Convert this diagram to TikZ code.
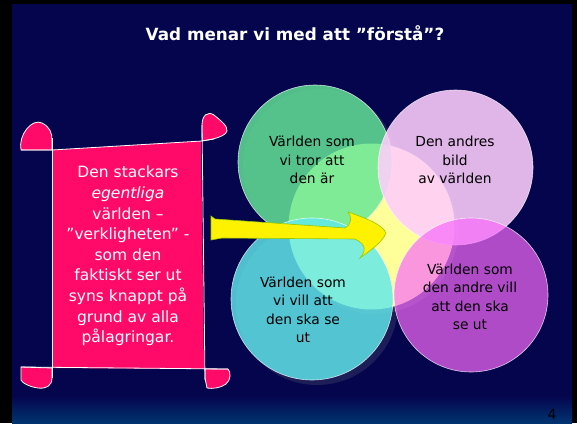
\documentclass[tikz,border=0pt]{standalone}
\usepackage{fontspec}
\setmainfont{DejaVu Sans}
\usepackage{tikz}
\usetikzlibrary{positioning}
\definecolor{slidebg}{RGB}{5,5,78}
\definecolor{slidefoot}{RGB}{0,52,112}
\definecolor{scrollpink}{RGB}{255,10,105}
\definecolor{sunyellow}{RGB}{255,255,153}
\definecolor{worldgreen}{RGB}{99,231,151}
\definecolor{otherlilac}{RGB}{255,206,253}
\definecolor{wishcyan}{RGB}{96,233,236}
\definecolor{othermagenta}{RGB}{249,106,252}
\definecolor{arrowedge}{RGB}{150,200,0}
\tikzset{world/.style={circle,draw=white,draw opacity=0.75,line width=0.6pt,inner sep=0pt,minimum size=#1}}
\tikzset{shadowdisc/.style={circle,fill=gray,fill opacity=0.2,inner sep=0pt,minimum size=#1}}
\tikzset{worldtext/.style={align=center,text=black,font=\fontsize{13.8}{18.5}\selectfont}}
\tikzset{scrollline/.style={draw=white,line width=0.8pt,line join=round}}

\begin{document}
\begin{tikzpicture}[x=1pt,y=-1pt]
        \useasboundingbox (0,0) rectangle (577,423);
        \fill[black] (0,0) rectangle (577,423);
        \fill[slidebg] (12,4) rectangle (572,423);
        \shade[top color=slidebg,bottom color=slidefoot] (12,396) rectangle (572,423);

        \node[font=\bfseries\fontsize{16.8}{20}\selectfont,text=white] (title) at (295,33) {Vad menar vi med att ”förstå”?};

        % the scroll
        \fill[scrollpink] (52,150) -- (201,141) -- (204,369) -- (52,368) -- cycle;
        \filldraw[scrollpink,scrollline] (21,150) .. controls (18,135) and (32,118) .. (42,123) .. controls (50,127) and (52,133) .. (52,140) -- (52,150) -- cycle;
        \filldraw[scrollpink,scrollline] (202,141) -- (202,125) .. controls (202,115) and (208,111) .. (214,115) .. controls (220,120) and (228,126) .. (227,131) .. controls (226,135) and (220,137) .. (213,139) -- cycle;
        \filldraw[scrollpink,scrollline] (21,367) -- (52,368) -- (52,378) .. controls (52,386) and (46,389) .. (38,388) .. controls (30,387) and (22,383) .. (21,380) -- cycle;
        \filldraw[scrollpink,scrollline] (205,369) -- (228,369) .. controls (231,372) and (231,380) .. (226,384) .. controls (221,388) and (212,389) .. (207,388) -- (205,378) -- cycle;
        \draw[scrollline] (21,150) -- (52,150) -- (202,141) -- (214,139);
        \draw[scrollline] (52,138) -- (52,378);
        \draw[scrollline] (202,125) -- (205,380);
        \draw[scrollline] (21,367) -- (228,369);
        \node[align=center,text=white,font=\fontsize{15.5}{20.6}\selectfont] (stuck) at (128,256) {Den stackars\\\textit{egentliga}\\världen –\\”verkligheten” -\\som den\\faktiskt ser ut\\syns knappt på\\grund av alla\\pålagringar.};

        % the four worlds
        \node[shadowdisc=166pt] at (375,231) {};
        \node[shadowdisc=154pt] at (320,166) {};
        \node[shadowdisc=162pt] at (317,304) {};
        \node[world=166pt,draw=none,fill=sunyellow] (core) at (371.5,226.5) {};
        \node[world=154pt,fill=worldgreen,fill opacity=0.82] (believed) at (315,162) {};
        \node[world=155pt,fill=otherlilac,fill opacity=0.88] (theirs) at (455.5,167.5) {};
        \node[world=162pt,fill=wishcyan,fill opacity=0.82] (wished) at (312,299) {};
        \node[world=154pt,fill=othermagenta,fill opacity=0.7] (theirwish) at (471,295) {};

        \node[worldtext] (believedtxt) at (312,160) {Världen som\\vi tror att\\den är};
        \node[worldtext] (theirstxt) at (455,160) {Den andres\\bild\\av världen};
        \node[worldtext] (wishedtxt) at (303,310) {Världen som\\vi vill att\\den ska se\\ut};
        \node[worldtext] (theirwishtxt) at (470,297) {Världen som\\den andre vill\\att den ska\\se ut};

        % the arrow
        \filldraw[fill=yellow,draw=arrowedge,line width=0.6pt] (211,216) -- (215,219) -- (345,228) .. controls (352,224) and (352,217) .. (348,212) .. controls (365,218) and (382,224) .. (386,233) .. controls (382,243) and (368,252) .. (360,258) .. controls (365,252) and (368,245) .. (355,239) -- (222,238) -- (211,240) -- cycle;

        \node[font=\fontsize{14}{16}\selectfont,text=black] (pagenum) at (552,414) {4};
    \end{tikzpicture}
\end{document}
